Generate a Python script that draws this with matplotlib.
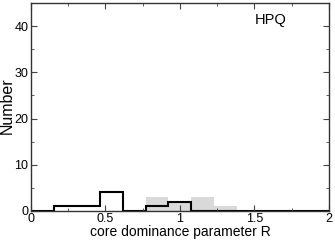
import numpy as np
import matplotlib
matplotlib.use("Agg")
import matplotlib.pyplot as plt
from matplotlib.ticker import MultipleLocator

plt.rcParams['font.family'] = ['Liberation Sans', 'DejaVu Sans']

# histogram bin edges (core dominance R)
edges = [0.0, 0.154, 0.307, 0.461, 0.615, 0.769, 0.922, 1.076, 1.230, 1.383, 2.0]
# black outline histogram
counts_line = [0, 1, 1, 4, 0, 1, 2, 0, 0, 0]
# grey filled histogram
counts_fill = [0, 0, 0, 0, 0, 3, 2, 3, 1, 0]

fig = plt.figure(figsize=(3.35, 2.4), dpi=100)
ax = fig.add_axes([0.0925, 0.121, 0.8895, 0.8665])

ax.stairs(counts_fill, edges, fill=True, color='#d9d9d9', linewidth=0)
ax.stairs(counts_line, edges, color='black', linewidth=1.5)

ax.set_xlim(0, 2)
ax.set_ylim(0, 45)
ax.xaxis.set_major_locator(MultipleLocator(0.5))
ax.xaxis.set_minor_locator(MultipleLocator(0.25))
ax.yaxis.set_major_locator(MultipleLocator(10))
ax.yaxis.set_minor_locator(MultipleLocator(5))
ax.set_xticks([0, 0.5, 1, 1.5, 2], ['0', '0.5', '1', '1.5', '2'])
ax.tick_params(which='both', direction='in', top=True, right=True,
               labelsize=9, color='#444444')
ax.tick_params(axis='x', pad=1.5)
ax.tick_params(axis='y', pad=2)
ax.tick_params(which='major', length=4)
ax.tick_params(which='minor', length=2)
for s in ax.spines.values():
    s.set_linewidth(1.0)
    s.set_color('#333333')

ax.set_xlabel('core dominance parameter R', fontsize=10, labelpad=0)
ax.set_ylabel('Number', fontsize=11.5)
ax.yaxis.set_label_coords(-0.055, 0.505)
ax.text(1.503, 41.3, 'HPQ', fontsize=10.5, va='center', ha='left')

fig.savefig('out.png', dpi=100)
